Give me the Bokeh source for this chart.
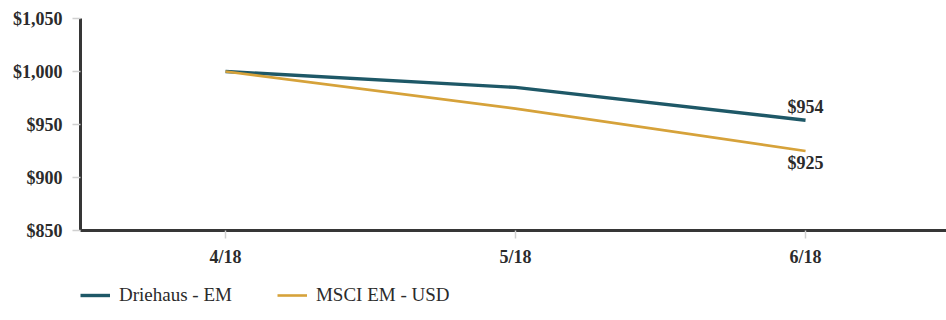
from bokeh.plotting import figure
from bokeh.layouts import column
from bokeh.models import (FixedTicker, NumeralTickFormatter, Range1d, Legend,
                          LegendItem, ColumnDataSource, LabelSet)
from bokeh.embed import file_html
from bokeh.resources import INLINE

# ---- data ----
dates = ["4/18", "5/18", "6/18"]
driehaus_em = [1000, 985, 954]
msci_em_usd = [1000, 965, 925]
y_ticks = [850, 900, 950, 1000, 1050]
end_labels = ["$954", "$925"]
series_names = ["Driehaus - EM", "MSCI EM - USD"]

TEAL = "#1e5867"
GOLD = "#d6a23a"
TXT = "#2b2b2b"
FONT = "Liberation Serif"

xs = list(range(len(dates)))

p = figure(frame_width=866, frame_height=212, output_backend="svg", toolbar_location=None,
           x_range=Range1d(-0.5, 2.486), y_range=Range1d(850, 1050),
           min_border_left=80, min_border_right=0, min_border_top=18,
           min_border_bottom=40)
p.outline_line_color = None
p.grid.grid_line_color = None
p.background_fill_color = "white"
p.border_fill_color = "white"

r1 = p.line(xs, driehaus_em, line_color=TEAL, line_width=3.4)
r2 = p.line(xs, msci_em_usd, line_color=GOLD, line_width=2.6)

# end-point value labels
lbl_top = LabelSet(x="x", y="y", text="t", source=ColumnDataSource(dict(
    x=[xs[-1]], y=[driehaus_em[-1]], t=[end_labels[0]])),
    x_offset=0, y_offset=3, text_align="center", text_baseline="bottom",
    text_font=FONT, text_font_size="18px", text_font_style="bold", text_color=TXT)
lbl_bot = LabelSet(x="x", y="y", text="t", source=ColumnDataSource(dict(
    x=[xs[-1]], y=[msci_em_usd[-1]], t=[end_labels[1]])),
    x_offset=0, y_offset=-2, text_align="center", text_baseline="top",
    text_font=FONT, text_font_size="18px", text_font_style="bold", text_color=TXT)
p.add_layout(lbl_top)
p.add_layout(lbl_bot)

# axes
p.xaxis.ticker = FixedTicker(ticks=xs)
p.xaxis.major_label_overrides = {i: d for i, d in enumerate(dates)}
p.yaxis.ticker = FixedTicker(ticks=y_ticks)
p.yaxis.formatter = NumeralTickFormatter(format="$0,0")

for ax in (p.xaxis[0], p.yaxis[0]):
    ax.axis_line_color = "#363636"
    ax.axis_line_width = 3
    ax.major_tick_line_color = "#d0d0d0"
    ax.major_tick_line_width = 1.5
    ax.major_tick_out = 8
    ax.major_tick_in = 0
    ax.minor_tick_line_color = None
    ax.major_label_text_font = FONT
    ax.major_label_text_font_size = "18px"
    ax.major_label_text_font_style = "bold"
    ax.major_label_text_color = TXT
p.xaxis.major_label_standoff = 8
p.yaxis.major_label_standoff = 10

# legend strip underneath (same series, drawn off-view so only the key shows)
lg = figure(width=946, height=50, output_backend="svg", toolbar_location=None,
            x_range=Range1d(0, 1), y_range=Range1d(0, 1),
            x_axis_type=None, y_axis_type=None,
            min_border_left=0, min_border_right=0, min_border_top=0,
            min_border_bottom=0)
lg.outline_line_color = None
lg.grid.grid_line_color = None
lr1 = lg.line(xs, driehaus_em, line_color=TEAL, line_width=3.4)
lr2 = lg.line(xs, msci_em_usd, line_color=GOLD, line_width=2.6)
legend = Legend(items=[LegendItem(label=series_names[0], renderers=[lr1]),
                       LegendItem(label=series_names[1], renderers=[lr2])],
                orientation="horizontal", location=(0, 14),
                glyph_width=30, glyph_height=16, label_standoff=9, spacing=45,
                padding=0, margin=0, border_line_color=None,
                background_fill_alpha=0,
                label_text_font=FONT, label_text_font_size="19px",
                label_text_color=TXT)
lg.add_layout(legend, "center")

layout = column(p, lg, spacing=0)
open("out.html", "w").write(file_html(layout, INLINE))
